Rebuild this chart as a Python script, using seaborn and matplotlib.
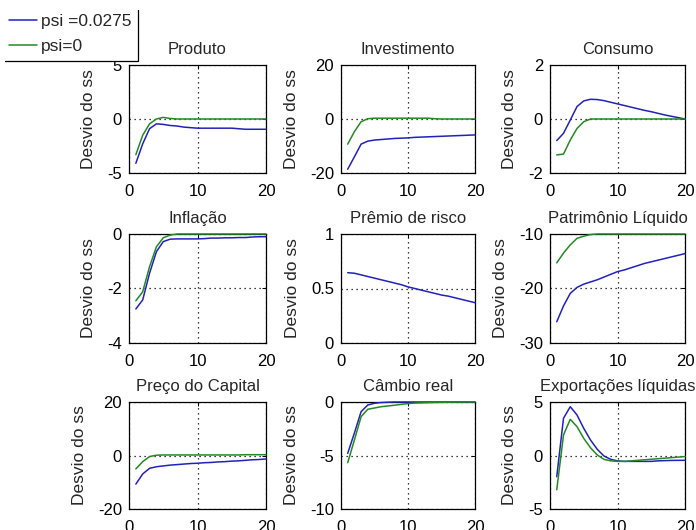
import matplotlib
matplotlib.use("Agg")
import matplotlib.pyplot as plt
from matplotlib.ticker import FuncFormatter
from matplotlib.transforms import Bbox
import numpy as np
import pandas as pd
import seaborn as sns

# Impulse responses over 20 periods: two calibrations (psi = 0.0275 and psi = 0)
periods = list(range(1, 21))
series_names = ["psi =0.0275", "psi=0"]
series_colors = ["#2222bb", "#238a23"]

produto_psi = [-4.1, -2.3, -0.9, -0.45, -0.5, -0.6, -0.65, -0.75, -0.8, -0.85,
               -0.85, -0.85, -0.85, -0.85, -0.85, -0.9, -0.95, -0.95, -0.95, -0.95]
produto_zero = [-3.3, -1.5, -0.45, 0.0, 0.15, 0.05, 0.0, 0.0, 0.0, 0.0,
                0.0, 0.0, 0.0, 0.0, 0.0, 0.0, 0.0, 0.0, 0.0, 0.0]

investimento_psi = [-18.6, -14.0, -9.3, -8.2, -7.8, -7.6, -7.4, -7.2, -7.1, -7.0,
                    -6.8, -6.7, -6.6, -6.5, -6.4, -6.3, -6.2, -6.1, -6.0, -5.9]
investimento_zero = [-9.3, -4.7, -1.0, 0.1, 0.3, 0.3, 0.3, 0.3, 0.3, 0.3,
                     0.3, 0.3, 0.3, 0.1, 0.0, 0.0, 0.0, 0.0, 0.0, 0.0]

consumo_psi = [-0.8, -0.53, -0.04, 0.46, 0.67, 0.73, 0.72, 0.68, 0.62, 0.56,
               0.5, 0.44, 0.38, 0.32, 0.27, 0.21, 0.15, 0.1, 0.05, 0.0]
consumo_zero = [-1.33, -1.3, -0.78, -0.35, -0.1, 0.0, 0.0, 0.0, 0.0, 0.0,
                0.0, 0.0, 0.0, 0.0, 0.0, 0.0, 0.0, 0.0, 0.0, 0.0]

inflacao_psi = [-2.75, -2.42, -1.44, -0.65, -0.28, -0.19, -0.18, -0.18, -0.18, -0.18,
                -0.17, -0.15, -0.15, -0.14, -0.14, -0.13, -0.13, -0.11, -0.1, -0.1]
inflacao_zero = [-2.45, -2.12, -1.2, -0.47, -0.14, -0.04, 0.0, 0.0, 0.0, 0.0,
                 0.0, 0.0, 0.0, 0.0, 0.0, 0.0, 0.0, 0.0, 0.0, 0.0]

# the risk premium has no response under psi = 0 (nothing drawn)
premio_psi = [0.645, 0.64, 0.625, 0.61, 0.595, 0.58, 0.565, 0.55, 0.535, 0.515,
              0.5, 0.485, 0.47, 0.455, 0.44, 0.43, 0.415, 0.4, 0.385, 0.37]
premio_zero = [np.nan] * 20

patrimonio_psi = [-26.1, -23.2, -20.9, -19.8, -19.2, -18.8, -18.4, -17.9, -17.4, -16.9,
                  -16.6, -16.2, -15.8, -15.4, -15.1, -14.8, -14.5, -14.2, -13.9, -13.6]
patrimonio_zero = [-15.3, -13.5, -12.0, -10.8, -10.4, -10.1, -10.0, -10.0, -10.0, -10.0,
                   -10.0, -10.0, -10.0, -10.0, -10.0, -10.0, -10.0, -10.0, -10.0, -10.0]

preco_psi = [-10.7, -6.9, -4.8, -4.2, -3.9, -3.6, -3.4, -3.2, -3.0, -2.9,
             -2.7, -2.6, -2.4, -2.3, -2.1, -2.0, -1.8, -1.6, -1.5, -1.3]
preco_zero = [-5.0, -2.3, -0.4, 0.1, 0.2, 0.2, 0.2, 0.2, 0.2, 0.2,
              0.2, 0.2, 0.2, 0.2, 0.2, 0.2, 0.3, 0.3, 0.3, 0.3]

cambio_psi = [-4.8, -2.9, -0.9, -0.28, -0.12, -0.05, -0.02, 0.0, 0.0, 0.0,
              0.0, 0.0, 0.0, 0.0, 0.0, 0.0, 0.0, 0.0, 0.0, 0.0]
cambio_zero = [-5.67, -3.55, -1.37, -0.68, -0.56, -0.44, -0.37, -0.3, -0.22, -0.15,
               -0.1, -0.08, -0.06, -0.04, -0.03, -0.02, -0.01, 0.0, 0.0, 0.0]

exportacoes_psi = [-1.98, 3.48, 4.56, 3.79, 2.54, 1.45, 0.58, -0.05, -0.36, -0.5,
                   -0.55, -0.55, -0.55, -0.55, -0.55, -0.5, -0.48, -0.46, -0.45, -0.45]
exportacoes_zero = [-3.2, 1.92, 3.38, 2.7, 1.6, 0.72, 0.05, -0.36, -0.5, -0.55,
                    -0.55, -0.5, -0.45, -0.4, -0.35, -0.3, -0.25, -0.2, -0.15, -0.1]

titles = ["Produto", "Investimento", "Consumo",
          "Inflação", "Prêmio de risco", "Patrimônio Líquido",
          "Preço do Capital", "Câmbio real", "Exportações líquidas"]
psi_series = [produto_psi, investimento_psi, consumo_psi,
              inflacao_psi, premio_psi, patrimonio_psi,
              preco_psi, cambio_psi, exportacoes_psi]
zero_series = [produto_zero, investimento_zero, consumo_zero,
               inflacao_zero, premio_zero, patrimonio_zero,
               preco_zero, cambio_zero, exportacoes_zero]
y_ticks = [[-5, 0, 5], [-20, 0, 20], [-2, 0, 2],
           [-4, -2, 0], [0, 0.5, 1], [-30, -20, -10],
           [-20, 0, 20], [-10, -5, 0], [-5, 0, 5]]
x_ticks = [0, 10, 20]
y_label = "Desvio do ss"

sns.set_style("white")
plt.rcParams["font.family"] = ["Liberation Sans", "DejaVu Sans"]
plt.rcParams["axes.unicode_minus"] = False

W, H = 696, 530
fig = plt.figure(figsize=(W / 100, H / 100), dpi=100)
fig.patch.set_facecolor("white")

col_left = [129, 341, 550]
col_right = [266, 475, 685]
row_top = [65, 234, 402]
row_bottom = [173, 343, 509]

fmt = FuncFormatter(lambda v, p: f"{v:g}")
fs = 12

legend_lines = None
for i, title in enumerate(titles):
    r, c = divmod(i, 3)
    l, rt = col_left[c], col_right[c]
    t, b = row_top[r], row_bottom[r]
    ax = fig.add_axes([l / W, 1 - b / H, (rt - l) / W, (b - t) / H])
    df = pd.DataFrame({
        "periodo": periods * 2,
        "valor": psi_series[i] + zero_series[i],
        "serie": [series_names[0]] * 20 + [series_names[1]] * 20,
    })
    sns.lineplot(data=df, x="periodo", y="valor", hue="serie",
                 hue_order=series_names, palette=series_colors,
                 linewidth=1.1, legend=False, ax=ax)
    for ln in ax.get_lines():
        ln.set_zorder(5)
        ln.set_clip_on(False)
    ax.set_xlim(0, 20)
    ax.set_ylim(y_ticks[i][0], y_ticks[i][-1])
    ax.set_xticks(x_ticks)
    ax.set_yticks(y_ticks[i])
    ax.xaxis.set_major_formatter(fmt)
    ax.yaxis.set_major_formatter(fmt)
    ax.set_xlabel("")
    ax.set_ylabel(y_label, fontsize=fs + 0.5, labelpad=8)
    ax.set_title(title, fontsize=fs, pad=8)
    ax.grid(True, color="black", linestyle=(0, (1, 3)), linewidth=0.9)
    ax.set_axisbelow(False)
    for sp in ax.spines.values():
        sp.set_color("black")
        sp.set_linewidth(0.9)
        sp.set_zorder(4)
    ax.tick_params(direction="in", length=3, width=0.7, top=True, right=True,
                   labelsize=fs, colors="black")
    ax.tick_params(axis="x", pad=8)
    ax.tick_params(axis="y", pad=5)
    if legend_lines is None:
        legend_lines = ax.get_lines()[:2]

leg = fig.legend(legend_lines, series_names, loc="lower right",
                 bbox_to_anchor=(138 / W, 1 - 61 / H),
                 frameon=True, fancybox=False, edgecolor="black", framealpha=1,
                 borderaxespad=0, borderpad=0.4, labelspacing=0.55,
                 handlelength=1.6, handletextpad=0.2, fontsize=12.5)
frame = leg.get_frame()
frame.set_linewidth(0.9)

# the box runs past the figure's top-left corner: only its right and bottom edges show
fig.canvas.draw()
fb = frame.get_window_extent(fig.canvas.get_renderer())
frame.set_clip_box(Bbox([[fb.x0 + 3, fb.y0 - 3], [fb.x1 + 3, fb.y1 - 3]]))
frame.set_clip_on(True)

fig.savefig("out.png", dpi=100, facecolor="white")
